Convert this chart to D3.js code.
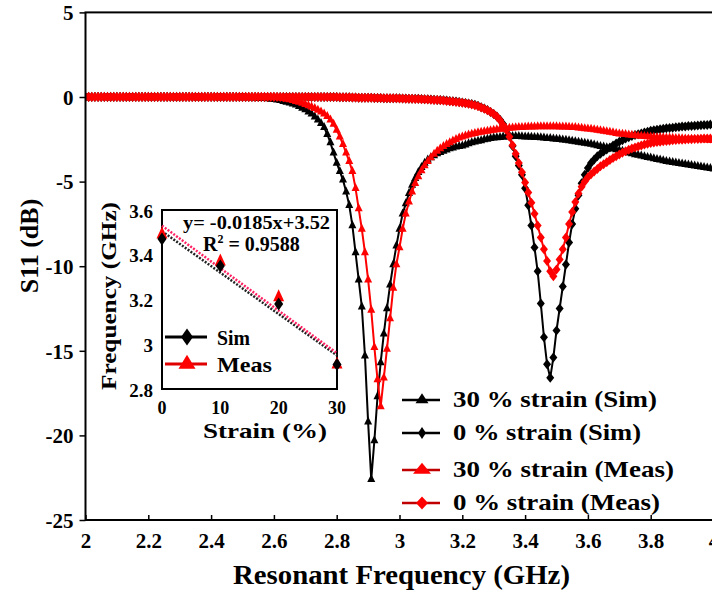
<!DOCTYPE html>
<html><head><meta charset="utf-8">
<script src="https://cdn.jsdelivr.net/npm/d3@7"></script>
<style>
body{margin:0;background:#fff;}
text{font-family:"Liberation Serif","Times New Roman",serif;font-weight:bold;fill:#000;}
</style>
</head><body>
<svg id="chart" width="712" height="591"></svg>
<script>
// ---------------- DATA ----------------
// frequency grid 2.00 .. 4.00 GHz, 0.01 GHz step (index i -> 2 + 0.01 i)
const freqGHz = d3.range(0, 201).map(i => +(2 + i * 0.01).toFixed(2));

// 30 % strain (Sim) — S11 in dB
const sim30 = [
  0,0,0,0,0,0,0,0,0,0,
  0,0,0,0,0,0,0,0,0,0,
  0,0,0,0,0,0,0,0,0,0,
  0,0,0,0,0,0,0,0,0,0,
  0,0,0,0,0,0,0,0,0,0,
  0,
  -0.02,-0.03,-0.04,-0.05,-0.06,-0.07,-0.08,-0.1,-0.12,-0.14,
  -0.17,-0.2,-0.25,-0.3,-0.35,-0.4,-0.47,-0.55,-0.65,-0.75,
  -0.87,-1.0,-1.17,-1.35,-1.55,-1.8,-2.2,-2.7,-3.3,-3.9,
  -4.4,-4.9,-5.6,-6.4,-7.6,-9.2,-10.8,-12.4,-15.3,-19.2,
  -22.6,-20.3,-17.7,-15.7,-14.0,-12.5,-11.1,-9.9,-8.8,-7.8,
  -6.9,-6.3,-5.7,-5.2,-4.8,-4.45,-4.15,-3.9,-3.72,-3.58,
  -3.46,-3.35,-3.27,-3.2,-3.12,-3.05,-3.0,-2.95,-2.92,-2.88,
  -2.82,-2.76,-2.7,-2.65,-2.61,-2.57,-2.52,-2.48,-2.45,-2.42,
  -2.4,-2.38,-2.36,-2.35,-2.34,-2.33,-2.33,-2.33,-2.34,-2.35,
  -2.36,-2.37,-2.38,-2.39,-2.4,-2.42,-2.44,-2.45,-2.47,-2.48,
  -2.5,-2.53,-2.55,-2.58,-2.6,-2.63,-2.66,-2.69,-2.72,-2.75,
  -2.79,-2.83,-2.87,-2.91,-2.95,-2.99,-3.03,-3.07,-3.11,-3.15,
  -3.2,-3.25,-3.3,-3.35,-3.4,-3.44,-3.48,-3.52,-3.56,-3.6,
  -3.64,-3.68,-3.72,-3.76,-3.8,-3.83,-3.86,-3.89,-3.92,-3.95,
  -3.98,-4.01,-4.04,-4.07,-4.1,-4.13,-4.16,-4.19,-4.22,-4.25
];

// 0 % strain (Sim)
const sim0 = [
  0,0,0,0,0,0,0,0,0,0,
  0,0,0,0,0,0,0,0,0,0,
  0,0,0,0,0,0,0,0,0,0,
  0,0,0,0,0,0,0,0,0,0,
  0,0,0,0,0,0,0,0,0,0,
  0,0,0,0,0,0,0,0,0,0,
  0,0,0,0,0,0,0,0,0,0,
  0,0,0,0,0,0,0,0,0,0,
  0,
  -0.01,-0.01,-0.02,-0.02,-0.03,-0.03,-0.04,-0.04,-0.05,-0.05,
  -0.05,-0.06,-0.06,-0.06,-0.07,-0.07,-0.07,-0.08,-0.08,-0.08,
  -0.09,-0.09,-0.1,-0.1,-0.11,-0.11,-0.12,-0.13,-0.14,-0.15,
  -0.16,-0.17,-0.18,-0.19,-0.21,-0.23,-0.25,-0.27,-0.29,-0.32,
  -0.35,-0.38,-0.42,-0.46,-0.52,-0.6,-0.68,-0.77,-0.88,-1.0,
  -1.15,-1.35,-1.6,-1.9,-2.3,-2.9,-3.5,-4.05,-4.6,-5.4,
  -6.4,-7.6,-8.9,-10.3,-12.2,-14.2,-15.8,-16.6,-15.4,-13.8,
  -12.5,-11.2,-9.9,-8.6,-7.5,-6.6,-5.8,-5.1,-4.6,-4.2,
  -3.9,-3.7,-3.5,-3.35,-3.22,-3.1,-2.98,-2.86,-2.75,-2.65,
  -2.55,-2.46,-2.38,-2.31,-2.25,-2.2,-2.15,-2.1,-2.05,-2.0,
  -1.97,-1.94,-1.91,-1.88,-1.85,-1.83,-1.81,-1.79,-1.77,-1.75,
  -1.74,-1.72,-1.71,-1.7,-1.68,-1.67,-1.66,-1.65,-1.63,-1.62
];

// 30 % strain (Meas)
const meas30 = [
  0,0,0,0,0,0,0,0,0,0,
  0,0,0,0,0,0,0,0,0,0,
  0,0,0,0,0,0,0,0,0,0,
  0,0,0,0,0,0,0,0,0,0,
  0,0,0,0,0,0,0,0,0,0,
  0,0,0,0,0,0,0,0,0,0,
  0,
  -0.02,-0.05,-0.08,-0.12,-0.16,-0.2,-0.25,-0.3,-0.36,-0.43,
  -0.5,-0.58,-0.67,-0.77,-0.88,-1.0,-1.15,-1.35,-1.6,-1.95,
  -2.35,-2.8,-3.3,-3.8,-4.4,-5.4,-6.6,-7.8,-9.2,-10.8,
  -12.6,-14.8,-16.7,-18.3,-16.6,-14.9,-13.1,-11.3,-9.9,-8.9,
  -7.8,-6.9,-6.2,-5.6,-5.1,-4.7,-4.35,-4.05,-3.8,-3.58,
  -3.38,-3.2,-3.05,-2.92,-2.8,-2.69,-2.59,-2.5,-2.42,-2.35,
  -2.29,-2.24,-2.19,-2.15,-2.11,-2.07,-2.04,-2.01,-1.98,-1.95,
  -1.92,-1.9,-1.88,-1.86,-1.84,-1.82,-1.81,-1.8,-1.79,-1.78,
  -1.77,-1.76,-1.76,-1.75,-1.75,-1.75,-1.75,-1.75,-1.75,-1.75,
  -1.76,-1.76,-1.77,-1.78,-1.79,-1.8,-1.82,-1.84,-1.86,-1.88,
  -1.9,-1.93,-1.96,-1.99,-2.02,-2.05,-2.08,-2.11,-2.14,-2.17,
  -2.19,-2.21,-2.23,-2.25,-2.27,-2.29,-2.31,-2.33,-2.34,-2.36,
  -2.37,-2.38,-2.39,-2.4,-2.41,-2.42,-2.43,-2.44,-2.45,-2.46,
  -2.47,-2.48,-2.49,-2.5,-2.5,-2.51,-2.52,-2.53,-2.54,-2.55
];

// 0 % strain (Meas)
const meas0 = [
  0,0,0,0,0,0,0,0,0,0,
  0,0,0,0,0,0,0,0,0,0,
  0,0,0,0,0,0,0,0,0,0,
  0,0,0,0,0,0,0,0,0,0,
  0,0,0,0,0,0,0,0,0,0,
  0,0,0,0,0,0,0,0,0,0,
  0,0,0,0,0,0,0,0,0,0,
  0,0,0,0,0,0,0,0,0,0,
  0,
  -0.01,-0.01,-0.02,-0.02,-0.03,-0.03,-0.04,-0.04,-0.05,-0.05,
  -0.05,-0.06,-0.06,-0.06,-0.07,-0.07,-0.07,-0.08,-0.08,-0.09,
  -0.09,-0.1,-0.1,-0.11,-0.12,-0.12,-0.13,-0.14,-0.15,-0.16,
  -0.17,-0.18,-0.19,-0.21,-0.23,-0.25,-0.27,-0.29,-0.31,-0.34,
  -0.37,-0.4,-0.44,-0.49,-0.55,-0.62,-0.7,-0.79,-0.89,-1.0,
  -1.15,-1.38,-1.65,-1.95,-2.35,-2.85,-3.35,-3.9,-4.45,-5.05,
  -5.65,-6.25,-6.9,-7.6,-8.3,-9.0,-9.7,-10.3,-10.6,-10.2,
  -9.6,-9.0,-8.3,-7.5,-6.8,-6.2,-5.7,-5.3,-5.0,-4.75,
  -4.57,-4.4,-4.25,-4.1,-3.97,-3.85,-3.72,-3.6,-3.5,-3.4,
  -3.3,-3.2,-3.12,-3.05,-2.98,-2.92,-2.86,-2.8,-2.76,-2.72,
  -2.69,-2.66,-2.64,-2.62,-2.6,-2.58,-2.56,-2.54,-2.53,-2.52,
  -2.51,-2.5,-2.49,-2.48,-2.48,-2.47,-2.46,-2.46,-2.45,-2.45
];

const legendLabels = ["30 % strain (Sim)", "0 % strain (Sim)", "30 % strain (Meas)", "0 % strain (Meas)"];
const xTickValues = [2, 2.2, 2.4, 2.6, 2.8, 3, 3.2, 3.4, 3.6, 3.8, 4];
const xTickLabels = ["2", "2.2", "2.4", "2.6", "2.8", "3", "3.2", "3.4", "3.6", "3.8", "4"];
const yTickValues = [-25, -20, -15, -10, -5, 0, 5];
const yTickLabels = ["-25", "-20", "-15", "-10", "-5", "0", "5"];

// inset: resonant frequency vs strain
const insetStrain = [0, 10, 20, 30];
const insetSim = [3.47, 3.35, 3.18, 2.91];
const insetMeas = [3.49, 3.37, 3.21, 2.91];
const insetYTicks = [2.8, 3.0, 3.2, 3.4, 3.6];
const insetYLabels = ["2.8", "3", "3.2", "3.4", "3.6"];
const insetXTicks = [0, 10, 20, 30];
const insetXLabels = ["0", "10", "20", "30"];
const insetLegend = ["Sim", "Meas"];
const fitText = "y= -0.0185x+3.52";
const r2Value = "0.9588";

// ---------------- DRAW ----------------
const svg = d3.select("#chart");
const x = d3.scaleLinear([2, 4], [85.5, 713.5]);
const y = d3.scaleLinear([-25, 5], [520, 12.4]);

function triPath(w, h) {
  return `M0,${-h * 2 / 3}L${w / 2},${h / 3}L${-w / 2},${h / 3}Z`;
}
function diaPath(w, h) {
  return `M0,${-h / 2}L${w / 2},0L0,${h / 2}L${-w / 2},0Z`;
}

svg.append("defs").append("clipPath").attr("id", "plotclip")
  .append("rect").attr("x", x(2)).attr("y", y(5)).attr("width", x(4) - x(2)).attr("height", y(-25) - y(5));

const series = [
  { vals: sim30, color: "#000", shape: "tri", label: legendLabels[0] },
  { vals: sim0, color: "#000", shape: "dia", label: legendLabels[1] },
  { vals: meas30, color: "#ff0000", shape: "tri", label: legendLabels[2] },
  { vals: meas0, color: "#ff0000", shape: "dia", label: legendLabels[3] }
];

const plot = svg.append("g").attr("clip-path", "url(#plotclip)");
const line = d3.line().x(d => x(d.f)).y(d => y(d.v));
series.forEach(s => {
  const pts = freqGHz.map((f, i) => ({ f, v: s.vals[i] }));
  const g = plot.append("g");
  g.append("path").datum(pts).attr("d", line).attr("fill", "none")
    .attr("stroke", s.color).attr("stroke-width", 2);
  g.selectAll("path.m").data(pts).join("path").attr("class", "m")
    .attr("transform", d => `translate(${x(d.f)},${y(d.v)})`)
    .attr("d", s.shape === "tri" ? triPath(8, 8) : diaPath(8, 10))
    .attr("fill", s.color);
});

// frame
svg.append("rect").attr("x", x(2)).attr("y", y(5)).attr("width", x(4) - x(2)).attr("height", y(-25) - y(5))
  .attr("fill", "none").attr("stroke", "#000").attr("stroke-width", 2);

// axes
const yAxis = svg.append("g").attr("transform", `translate(${x(2)},0)`)
  .call(d3.axisLeft(y).tickValues(yTickValues).tickFormat((d, i) => yTickLabels[i]).tickSizeInner(6).tickSizeOuter(0).tickPadding(6));
yAxis.select(".domain").remove();
yAxis.selectAll("line").attr("stroke-width", 1.5);
yAxis.selectAll("text").attr("font-size", 21).attr("font-family", null).attr("dy", "0.35em");

const xAxis = svg.append("g").attr("transform", `translate(0,${y(-25)})`)
  .call(d3.axisBottom(x).tickValues(xTickValues).tickFormat((d, i) => xTickLabels[i]).tickSizeInner(-5).tickSizeOuter(0).tickPadding(13));
xAxis.select(".domain").remove();
xAxis.selectAll("line").attr("stroke-width", 1.5);
xAxis.selectAll("text").attr("font-size", 21).attr("font-family", null);

// axis titles
svg.append("text").attr("x", 233).attr("y", 584).attr("font-size", 27)
  .attr("textLength", 337).attr("lengthAdjust", "spacingAndGlyphs").text("Resonant Frequency (GHz)");
svg.append("text").attr("transform", "translate(38,246) rotate(-90)").attr("text-anchor", "middle")
  .attr("font-size", 26).text("S11 (dB)");

// main legend
const legYs = [400, 433, 470, 503];
const legLens = [204, 188, 221, 207];
const legSizes = [[13, 10], [8, 12], [18, 11], [12, 13]];
series.forEach((s, i) => {
  const g = svg.append("g").attr("transform", `translate(0,${legYs[i]})`);
  g.append("line").attr("x1", 402).attr("x2", 440).attr("y1", 0).attr("y2", 0)
    .attr("stroke", s.color === "#000" ? "#000" : "#c00000").attr("stroke-width", 2.5);
  g.append("path").attr("transform", "translate(422,0)")
    .attr("d", s.shape === "tri" ? triPath(legSizes[i][0], legSizes[i][1]) : diaPath(legSizes[i][0], legSizes[i][1]))
    .attr("fill", s.color);
  g.append("text").attr("x", 453).attr("y", 7).attr("font-size", 23)
    .attr("textLength", legLens[i]).attr("lengthAdjust", "spacingAndGlyphs").text(s.label);
});

// ---------------- INSET ----------------
const ix = d3.scaleLinear([0, 30], [162, 337]);
const iy = d3.scaleLinear([2.8, 3.6], [389, 210]);
const inset = svg.append("g");
inset.append("rect").attr("x", ix(0)).attr("y", iy(3.6)).attr("width", ix(30) - ix(0)).attr("height", iy(2.8) - iy(3.6))
  .attr("fill", "#fff").attr("stroke", "#000").attr("stroke-width", 2);

inset.selectAll("text.iy").data(insetYTicks).join("text").attr("class", "iy")
  .attr("x", 153).attr("y", d => iy(d) + 1).attr("dy", "0.35em").attr("text-anchor", "end")
  .attr("font-size", 19).text((d, i) => insetYLabels[i]);
inset.selectAll("text.ix").data(insetXTicks).join("text").attr("class", "ix")
  .attr("x", d => ix(d)).attr("y", 414).attr("text-anchor", "middle")
  .attr("font-size", 18).text((d, i) => insetXLabels[i]);

inset.append("text").attr("transform", "translate(116,296) rotate(-90)").attr("text-anchor", "middle")
  .attr("font-size", 21).attr("textLength", 188).attr("lengthAdjust", "spacingAndGlyphs").text("Frequency (GHz)");
inset.append("text").attr("x", 203).attr("y", 438).attr("font-size", 21)
  .attr("textLength", 124).attr("lengthAdjust", "spacingAndGlyphs").text("Strain (%)");

// least-squares trendlines
function fit(xs, ys) {
  const mx = d3.mean(xs), my = d3.mean(ys);
  const sxy = d3.sum(xs, (v, i) => (v - mx) * (ys[i] - my));
  const sxx = d3.sum(xs, v => (v - mx) * (v - mx));
  const b = sxy / sxx; return { b, a: my - b * mx };
}
const fs = fit(insetStrain, insetSim), fm = fit(insetStrain, insetMeas);
[[fs, "#222"], [fm, "#ff2060"]].forEach(([f, c]) => {
  inset.append("line").attr("x1", ix(0)).attr("x2", ix(30))
    .attr("y1", iy(f.a)).attr("y2", iy(f.a + f.b * 30))
    .attr("stroke", c).attr("stroke-width", 2.5).attr("stroke-dasharray", "2,1.5");
});

inset.selectAll("path.mt").data(insetStrain).join("path").attr("class", "mt")
  .attr("transform", (d, i) => `translate(${ix(d)},${iy(insetMeas[i])})`)
  .attr("d", triPath(11, 12)).attr("fill", "#ff0000");
inset.selectAll("path.sd").data(insetStrain).join("path").attr("class", "sd")
  .attr("transform", (d, i) => `translate(${ix(d)},${iy(insetSim[i])})`)
  .attr("d", diaPath(9, 13)).attr("fill", "#000");

inset.append("text").attr("x", 183).attr("y", 229).attr("font-size", 19)
  .attr("textLength", 147).attr("lengthAdjust", "spacingAndGlyphs").text(fitText);
const r2 = inset.append("text").attr("x", 203).attr("y", 251).attr("font-size", 20);
r2.append("tspan").text("R");
r2.append("tspan").attr("font-size", 12).attr("dy", -8).text("2");
r2.append("tspan").attr("dy", 8).text(" = " + r2Value);

// inset legend
const ilegY = [337, 364];
inset.append("line").attr("x1", 165).attr("x2", 207).attr("y1", ilegY[0]).attr("y2", ilegY[0]).attr("stroke", "#000").attr("stroke-width", 3);
inset.append("path").attr("transform", `translate(187,${ilegY[0]})`).attr("d", diaPath(12, 17)).attr("fill", "#000");
inset.append("line").attr("x1", 165).attr("x2", 207).attr("y1", ilegY[1]).attr("y2", ilegY[1]).attr("stroke", "#e00000").attr("stroke-width", 3);
inset.append("path").attr("transform", `translate(187,${ilegY[1]})`).attr("d", triPath(17, 14)).attr("fill", "#ff0000");
inset.append("text").attr("x", 217).attr("y", 345).attr("font-size", 22).attr("textLength", 33).attr("lengthAdjust", "spacingAndGlyphs").text(insetLegend[0]);
inset.append("text").attr("x", 217).attr("y", 372).attr("font-size", 22).attr("textLength", 55).attr("lengthAdjust", "spacingAndGlyphs").text(insetLegend[1]);
</script>
</body></html>
